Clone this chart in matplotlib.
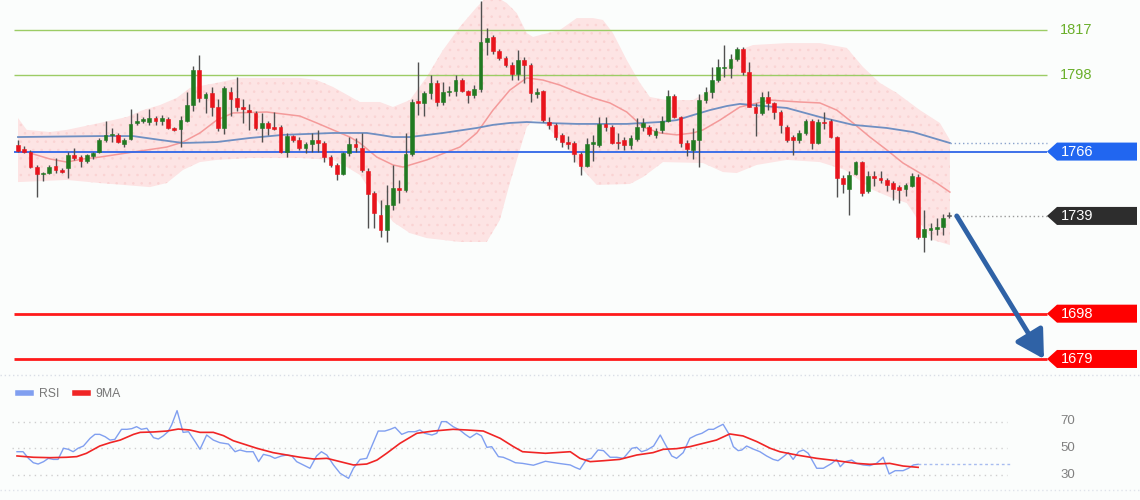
import matplotlib
matplotlib.use("Agg")
import matplotlib.pyplot as plt
from matplotlib.lines import Line2D
from matplotlib.patches import Polygon

plt.rcParams["font.family"] = ["Liberation Sans", "DejaVu Sans"]
plt.rcParams["hatch.linewidth"] = 0.6

# candles: open, high, low, close
opens = [1768.8, 1767.0, 1766.0, 1759.7, 1756.5, 1757.0, 1760.0, 1758.3, 1759.0, 1764.5,
         1763.8, 1762.0, 1764.0, 1766.0, 1771.0, 1773.0, 1773.0, 1769.0, 1771.3, 1778.0,
         1779.0, 1778.6, 1780.0, 1779.0, 1779.6, 1776.0, 1775.5, 1779.0, 1785.5, 1800.2,
         1788.3, 1790.7, 1784.7, 1776.0, 1791.0, 1788.3, 1784.8, 1783.4, 1782.3, 1776.0,
         1778.0, 1776.4, 1776.4, 1766.0, 1772.5, 1771.0, 1767.6, 1769.0, 1771.0, 1769.7,
         1763.8, 1760.4, 1756.6, 1765.5, 1769.0, 1767.5, 1758.0, 1748.6, 1739.4, 1733.0,
         1743.6, 1750.7, 1750.0, 1765.0, 1787.4, 1786.4, 1790.6, 1794.8, 1787.0, 1791.0,
         1791.4, 1796.0, 1791.4, 1789.8, 1792.2, 1812.0, 1814.0, 1808.0, 1805.4, 1802.4,
         1798.5, 1804.4, 1802.3, 1790.3, 1791.4, 1778.4, 1777.1, 1773.0, 1770.0, 1769.6,
         1765.0, 1760.0, 1769.2, 1768.8, 1777.6, 1776.3, 1770.0, 1771.0, 1768.8, 1771.3,
         1776.3, 1776.3, 1773.0, 1775.0, 1779.0, 1789.4, 1780.5, 1769.6, 1766.8, 1771.0,
         1787.6, 1791.0, 1796.0, 1801.0, 1801.0, 1805.0, 1809.0, 1799.4, 1784.7, 1782.2,
         1789.0, 1786.4, 1782.6, 1776.3, 1772.1, 1771.0, 1773.8, 1778.8, 1769.6, 1778.6,
         1778.8, 1772.0, 1755.0, 1750.5, 1756.6, 1761.6, 1749.5, 1755.8, 1755.0, 1754.0,
         1752.8, 1751.0, 1750.3, 1751.5, 1755.4, 1730.2, 1733.3, 1733.7, 1734.4, 1739.0]
highs = [1770.9, 1768.5, 1766.8, 1760.5, 1757.5, 1760.5, 1763.3, 1759.0, 1766.0, 1767.5,
         1764.5, 1765.0, 1766.0, 1771.5, 1779.0, 1776.0, 1774.0, 1771.5, 1784.0, 1782.0,
         1780.5, 1784.0, 1781.0, 1781.5, 1780.5, 1776.5, 1781.0, 1791.0, 1802.0, 1806.5,
         1791.0, 1793.0, 1788.0, 1793.5, 1793.0, 1797.4, 1788.0, 1786.0, 1783.0, 1782.0,
         1779.0, 1782.6, 1777.0, 1773.8, 1773.0, 1772.0, 1770.0, 1774.0, 1775.0, 1770.5,
         1764.5, 1761.0, 1766.0, 1772.0, 1771.5, 1774.0, 1759.0, 1749.5, 1745.7, 1752.0,
         1760.4, 1754.0, 1774.0, 1788.0, 1803.6, 1791.5, 1798.0, 1796.0, 1795.0, 1793.5,
         1798.0, 1797.0, 1792.0, 1794.0, 1829.0, 1818.0, 1815.0, 1809.0, 1806.0, 1803.5,
         1808.6, 1805.5, 1803.0, 1792.5, 1792.0, 1780.5, 1778.0, 1774.0, 1772.5, 1770.5,
         1766.0, 1771.7, 1773.0, 1780.5, 1780.5, 1777.0, 1774.0, 1772.0, 1773.0, 1780.0,
         1780.0, 1777.0, 1776.0, 1781.0, 1792.0, 1790.0, 1781.0, 1771.0, 1776.0, 1790.0,
         1793.0, 1801.5, 1805.0, 1810.7, 1807.0, 1810.0, 1810.0, 1803.6, 1786.5, 1791.0,
         1791.5, 1787.0, 1783.5, 1777.0, 1773.0, 1775.0, 1779.5, 1779.5, 1779.5, 1782.6,
         1779.5, 1772.5, 1756.0, 1758.0, 1762.0, 1762.0, 1758.0, 1758.0, 1758.0, 1755.0,
         1753.5, 1752.0, 1753.0, 1757.0, 1756.5, 1741.5, 1736.0, 1738.0, 1740.0, 1740.7]
lows = [1765.8, 1765.5, 1759.0, 1747.0, 1753.5, 1756.5, 1757.0, 1757.0, 1755.0, 1762.5,
        1759.5, 1761.0, 1763.0, 1765.5, 1770.0, 1770.0, 1769.5, 1768.0, 1770.9, 1777.0,
        1778.0, 1777.0, 1777.0, 1777.0, 1775.5, 1774.5, 1768.0, 1778.5, 1783.0, 1787.0,
        1782.0, 1781.0, 1774.5, 1773.5, 1781.0, 1783.0, 1778.0, 1775.0, 1775.0, 1770.0,
        1773.0, 1775.0, 1765.5, 1763.7, 1770.0, 1766.5, 1765.5, 1766.0, 1766.0, 1761.5,
        1759.5, 1754.0, 1756.0, 1764.0, 1766.0, 1757.5, 1734.0, 1734.0, 1730.0, 1728.0,
        1741.5, 1744.5, 1749.0, 1764.0, 1781.3, 1781.0, 1788.0, 1785.0, 1785.5, 1789.5,
        1789.5, 1791.0, 1786.4, 1788.5, 1791.0, 1806.5, 1807.0, 1804.5, 1801.5, 1796.0,
        1796.0, 1794.8, 1787.0, 1788.5, 1778.5, 1775.5, 1771.0, 1768.0, 1767.0, 1761.6,
        1756.0, 1759.5, 1762.0, 1768.0, 1774.5, 1769.0, 1767.0, 1766.5, 1767.0, 1770.5,
        1774.5, 1772.5, 1771.5, 1774.0, 1778.5, 1780.0, 1768.0, 1764.0, 1763.0, 1759.5,
        1786.5, 1788.5, 1795.0, 1797.4, 1797.0, 1804.0, 1798.0, 1784.5, 1772.5, 1781.5,
        1783.5, 1779.5, 1774.0, 1770.0, 1764.5, 1769.5, 1773.0, 1767.0, 1769.0, 1775.5,
        1771.5, 1747.0, 1748.6, 1739.4, 1756.0, 1747.5, 1748.5, 1751.5, 1753.0, 1749.5,
        1745.7, 1744.4, 1747.5, 1751.0, 1729.5, 1724.0, 1729.0, 1731.0, 1731.0, 1738.0]
closes = [1766.2, 1766.0, 1759.7, 1756.5, 1757.0, 1759.7, 1758.3, 1757.6, 1764.5, 1763.2,
          1762.0, 1764.5, 1765.5, 1770.9, 1773.0, 1773.4, 1770.0, 1771.0, 1777.6, 1779.0,
          1779.5, 1780.0, 1779.0, 1780.0, 1776.0, 1775.0, 1779.3, 1785.5, 1800.2, 1788.3,
          1790.0, 1784.8, 1776.0, 1792.7, 1788.0, 1784.8, 1783.7, 1782.7, 1775.8, 1778.0,
          1775.8, 1775.3, 1766.0, 1772.5, 1770.9, 1767.6, 1769.0, 1771.0, 1769.8, 1763.8,
          1760.4, 1756.6, 1765.5, 1769.0, 1768.0, 1758.3, 1748.0, 1740.2, 1733.0, 1743.6,
          1750.7, 1749.7, 1765.0, 1786.8, 1786.4, 1790.6, 1794.8, 1787.0, 1791.0, 1791.5,
          1796.0, 1791.4, 1789.8, 1792.2, 1812.0, 1813.6, 1808.0, 1805.4, 1802.4, 1798.5,
          1804.4, 1802.3, 1790.6, 1791.0, 1779.3, 1777.1, 1772.1, 1770.0, 1769.2, 1765.0,
          1760.0, 1769.2, 1770.0, 1777.6, 1776.3, 1769.6, 1769.6, 1768.8, 1771.7, 1776.3,
          1778.0, 1773.4, 1774.5, 1779.0, 1789.4, 1780.5, 1769.6, 1767.2, 1771.0, 1787.6,
          1791.0, 1796.0, 1801.5, 1801.5, 1805.0, 1809.0, 1799.4, 1784.7, 1782.2, 1789.0,
          1786.4, 1782.6, 1777.0, 1771.0, 1771.0, 1773.8, 1778.8, 1769.6, 1778.4, 1778.0,
          1772.0, 1755.0, 1752.4, 1756.2, 1761.6, 1748.6, 1755.8, 1755.0, 1754.0, 1752.0,
          1750.3, 1750.0, 1752.0, 1755.8, 1730.2, 1733.5, 1733.5, 1734.2, 1738.0, 1739.0]

# bollinger band edges and moving averages (bar, price)
band_upper = [(0, 1780.1), (1.4, 1775.1), (5.1, 1774.2), (7.8, 1775.1), (13.1, 1778.0),
              (17.4, 1780.5), (20.0, 1783.4), (22.7, 1785.5), (25.4, 1788.5), (27.5, 1792.7),
              (31.8, 1794.8), (35.5, 1796.9), (45.1, 1796.9), (47.8, 1796.0), (50.4, 1793.1),
              (54.7, 1786.8), (57.9, 1786.8), (60.0, 1784.7), (62.7, 1787.6), (65.4, 1797.3),
              (68.0, 1808.6), (70.7, 1818.3), (73.4, 1826.6), (74.7, 1830.0), (77.1, 1830.0),
              (78.2, 1828.3), (79.8, 1824.1), (81.4, 1815.7), (82.4, 1814.1), (86.7, 1817.0),
              (89.4, 1822.0), (92.0, 1822.0), (93.6, 1821.2), (95.2, 1815.7), (97.4, 1804.4),
              (99.5, 1794.8), (101.1, 1788.9), (103.8, 1787.6), (108.0, 1787.6), (110.7, 1791.8),
              (113.4, 1801.5), (115.5, 1808.6), (117.6, 1810.7), (123.0, 1811.5), (128.3, 1811.5),
              (132.6, 1809.5), (135.2, 1801.5), (137.9, 1794.8), (140.6, 1790.6), (144.3, 1783.4),
              (147.5, 1778.0), (149.1, 1770.9)]
band_lower = [(0, 1753.2), (7.8, 1754.1), (13.1, 1752.8), (21.1, 1751.1), (23.8, 1752.8),
              (26.4, 1758.3), (29.1, 1761.6), (31.8, 1762.5), (37.1, 1763.3), (45.1, 1763.3),
              (50.4, 1762.5), (52.6, 1759.5), (54.7, 1756.2), (57.4, 1745.7), (60.0, 1736.5),
              (62.7, 1731.8), (65.4, 1729.7), (70.7, 1728.1), (75.0, 1728.1), (77.1, 1737.3),
              (78.7, 1752.8), (80.3, 1766.7), (81.4, 1776.3), (82.4, 1779.2), (84.0, 1778.4),
              (85.6, 1773.8), (87.8, 1767.9), (89.4, 1761.2), (92.6, 1752.0), (97.9, 1752.4),
              (100.0, 1755.3), (103.2, 1761.6), (109.6, 1761.2), (112.8, 1757.4), (115.0, 1757.0),
              (118.2, 1760.4), (123.0, 1762.5), (128.3, 1761.6), (132.3, 1758.3), (136.8, 1749.9),
              (139.5, 1746.9), (142.2, 1744.4), (144.8, 1734.4), (146.4, 1728.9), (149.1, 1726.8)]
ma_fast = [(1.9, 1765.4), (5.1, 1762.9), (7.8, 1761.6), (10.4, 1762.9), (13.1, 1763.7),
           (18.4, 1765.8), (23.8, 1767.9), (26.4, 1770.0), (29.1, 1773.8), (31.8, 1779.2),
           (34.4, 1782.2), (39.8, 1782.6), (45.1, 1780.9), (47.8, 1778.0), (50.4, 1775.1),
           (53.1, 1772.1), (54.7, 1769.6), (57.4, 1763.7), (60.0, 1760.4), (61.6, 1759.5),
           (65.4, 1762.5), (70.7, 1767.9), (73.4, 1773.8), (76.0, 1783.4), (78.7, 1791.8),
           (81.4, 1796.9), (84.0, 1796.0), (86.7, 1793.9), (89.4, 1791.0), (92.0, 1788.5),
           (94.7, 1786.4), (97.4, 1782.6), (100.0, 1776.3), (102.7, 1773.8), (105.4, 1773.0),
           (108.0, 1773.8), (109.6, 1775.1), (112.3, 1779.2), (115.5, 1784.7), (120.3, 1787.6),
           (125.1, 1786.8), (128.3, 1786.4), (131.0, 1783.4), (133.6, 1778.0), (136.3, 1772.1),
           (139.0, 1766.7), (141.6, 1761.2), (144.3, 1757.0), (147.0, 1752.8), (149.1, 1749.0)]
ma_slow = [(0, 1772.1), (13.1, 1772.5), (18.4, 1772.5), (22.7, 1770.9), (26.4, 1769.6),
           (31.8, 1770.0), (37.1, 1771.7), (42.4, 1773.0), (50.4, 1773.8), (55.8, 1773.8),
           (57.9, 1773.0), (60.0, 1772.1), (62.7, 1772.1), (68.0, 1773.8), (73.4, 1775.9),
           (76.0, 1777.2), (78.7, 1778.0), (81.4, 1778.4), (84.6, 1778.0), (89.4, 1777.6),
           (97.4, 1777.6), (102.7, 1778.4), (105.4, 1779.2), (108.0, 1781.3), (110.7, 1783.4),
           (113.4, 1785.1), (115.5, 1786.0), (117.6, 1785.5), (123.0, 1784.3), (128.3, 1780.5),
           (133.6, 1777.2), (139.0, 1775.9), (143.2, 1774.2), (146.4, 1771.7), (149.1, 1769.6)]

resistance = [1817, 1798]
pivot = 1766
last_price = 1739
supports = [1698, 1679]

# RSI panel (bar, value)
rsi = [(0, 47.2), (1.0, 47.2), (1.9, 42.2), (2.7, 38.9), (3.5, 37.9), (4.4, 39.7), (5.2, 42.2),
       (6.0, 41.4), (6.8, 41.4), (7.7, 49.8), (8.5, 49.0), (9.3, 47.2), (10.1, 49.8), (11.0, 51.5),
       (12.1, 57.3), (12.9, 60.3), (13.7, 60.3), (14.6, 58.5), (15.4, 56.0), (16.2, 56.5),
       (17.3, 64.1), (18.2, 64.1), (19.0, 64.6), (19.8, 66.1), (20.6, 64.1), (21.5, 64.9),
       (22.6, 57.8), (23.4, 56.8), (24.2, 59.1), (25.0, 62.3), (25.6, 67.4), (26.5, 78.2),
       (27.5, 61.8), (28.4, 62.3), (29.5, 54.8), (30.3, 49.0), (31.4, 59.8), (32.5, 56.0),
       (33.6, 54.0), (35.0, 53.0), (36.1, 47.2), (36.9, 48.5), (38.0, 47.2), (39.1, 47.2),
       (40.0, 39.7), (40.8, 45.2), (41.9, 44.0), (42.7, 42.2), (43.8, 44.0), (44.7, 44.7),
       (45.5, 44.0), (46.3, 39.7), (47.4, 37.2), (48.5, 34.7), (49.6, 44.0), (50.4, 47.2),
       (51.3, 44.7), (52.4, 37.2), (53.5, 30.9), (54.9, 27.1), (55.7, 34.7), (56.8, 41.4),
       (57.9, 42.2), (58.7, 51.0), (59.8, 62.8), (60.9, 62.8), (61.8, 64.1), (62.6, 65.6),
       (63.7, 60.3), (64.8, 62.3), (65.9, 62.3), (66.7, 63.6), (67.5, 61.1), (68.7, 59.8),
       (69.5, 61.1), (70.3, 69.9), (71.1, 69.9), (72.2, 66.1), (73.3, 63.6), (74.2, 60.3),
       (75.0, 57.8), (76.1, 61.1), (76.9, 59.1), (77.8, 50.5), (78.6, 51.0), (79.7, 43.5),
       (80.5, 43.0), (81.6, 40.9), (82.5, 38.9), (83.7, 38.4), (85.5, 37.0), (87.5, 40.0),
       (89.5, 38.5), (91.6, 37.2), (92.4, 35.4), (93.2, 33.9), (94.3, 41.4), (95.1, 42.2),
       (96.2, 48.5), (97.1, 48.0), (98.2, 43.0), (99.3, 43.0), (100.4, 42.2), (101.8, 49.8),
       (102.6, 50.5), (103.4, 47.2), (104.3, 48.5), (105.4, 51.5), (106.5, 59.8), (107.3, 53.0),
       (108.4, 44.0), (109.2, 42.2), (110.3, 46.5), (111.4, 57.3), (112.5, 59.8), (113.4, 61.1),
       (114.5, 64.1), (115.3, 64.1), (116.1, 66.1), (116.9, 67.9), (117.8, 61.1), (118.6, 51.0),
       (119.4, 48.0), (120.0, 48.5), (120.8, 51.5), (121.9, 49.2), (123.0, 47.2), (124.1, 44.0),
       (125.2, 41.4), (126.0, 40.4), (126.9, 43.5), (127.7, 46.5), (128.5, 41.4), (129.4, 47.2),
       (130.2, 48.5), (131.0, 46.0), (132.4, 34.7), (133.5, 34.7), (134.9, 38.4), (135.7, 41.4),
       (136.3, 35.9), (137.1, 39.7), (138.2, 40.9), (139.0, 38.4), (140.1, 37.2), (141.2, 36.7),
       (142.3, 38.4), (143.4, 43.0), (144.4, 30.4), (145.4, 32.9), (146.7, 32.9), (147.6, 34.7),
       (148.4, 37.2), (149.2, 37.7)]
rsi_ma = [(0, 44.0), (2.7, 43.0), (5.5, 42.7), (8.2, 43.0), (9.9, 43.5), (11.5, 46.0), (13.7, 51.5),
          (15.4, 54.0), (17.1, 56.0), (19.3, 60.3), (20.4, 61.8), (22.6, 62.1), (24.8, 62.8),
          (26.7, 64.3), (28.6, 63.6), (30.3, 61.8), (32.5, 61.8), (34.2, 59.3), (35.8, 55.5),
          (38.0, 52.3), (39.7, 49.8), (42.4, 46.5), (44.7, 44.7), (46.9, 43.0), (49.1, 41.7),
          (51.3, 42.2), (53.5, 39.7), (55.7, 37.2), (57.9, 37.9), (59.6, 40.9), (61.2, 46.0),
          (63.4, 53.5), (66.2, 61.1), (68.9, 62.8), (72.2, 64.1), (74.5, 63.6), (77.2, 62.8),
          (80.0, 57.3), (82.2, 51.0), (83.7, 47.2), (87.5, 46.0), (91.6, 47.2), (93.2, 42.2),
          (94.9, 39.7), (97.1, 40.4), (99.8, 41.4), (102.6, 44.7), (105.3, 46.5), (107.0, 49.0),
          (109.2, 49.5), (111.4, 51.0), (113.6, 53.5), (115.8, 56.0), (118.0, 60.6), (120.2, 59.1),
          (122.5, 54.8), (124.7, 49.8), (126.3, 47.2), (129.1, 44.7), (132.4, 42.2), (135.7, 40.4),
          (139.0, 38.4), (141.2, 37.7), (144.5, 38.4), (146.7, 36.4), (149.2, 35.4)]
rsi_levels = [70, 50, 30]

GREEN = "#217a21"
RED = "#e8141c"
BG = "#fbfdfc"

fig = plt.figure(figsize=(11.4, 5.0), dpi=100, facecolor=BG)

# ---- price panel ----
ax = fig.add_axes([0, 128 / 500, 1, 372 / 500])
ax.set_facecolor(BG)
step = 6.25
ax.set_xlim(-18 / step, (1140 - 18) / step)
ax.set_ylim(1829.585 - 0.4195 * 372, 1829.585)
ax.axis("off")

bx = [p[0] for p in band_upper] + [p[0] for p in band_lower][::-1]
by = [p[1] for p in band_upper] + [p[1] for p in band_lower][::-1]
ax.fill(bx, by, facecolor="#fde4e4", edgecolor="none", zorder=1)
ax.fill(bx, by, facecolor="none", edgecolor="#fad3d3", hatch="..", lw=0, zorder=1)

ax.plot([p[0] for p in ma_fast], [p[1] for p in ma_fast], color="#f49a9a", lw=1.1, zorder=2)
ax.plot([p[0] for p in ma_slow], [p[1] for p in ma_slow], color="#6f8fc2", lw=1.3, zorder=2)

line_end = (1047 - 18) / step
line_start = (14 - 18) / step
for lvl in resistance:
    ax.hlines(lvl, line_start, line_end, color="#9ccc65", lw=1, zorder=2)
    ax.text((1060 - 18) / step, lvl, str(lvl), color="#6aaf2a", fontsize=10.5, va="center", ha="left")
ax.hlines(pivot, line_start, line_end, color="#2f66e8", lw=1.3, zorder=2)
for lvl in supports:
    ax.hlines(lvl, line_start, line_end, color="#ff1a1a", lw=2, zorder=2)

# candles
n = len(closes)
for i in range(n):
    o, h, l, c = opens[i], highs[i], lows[i], closes[i]
    ax.vlines(i, l, h, color="#505050", lw=1, zorder=3)
    col = GREEN if c > o else RED
    if c == o:
        col = "#505050"
    ax.bar(i, max(abs(c - o), 0.45), bottom=min(o, c), width=0.62, color=col, edgecolor=col, lw=0.4, zorder=4)

# dotted extensions
ax.hlines(ma_slow[-1][1], ma_slow[-1][0], line_end, color="#8aa2cc", lw=1, linestyles=(0, (1, 2)), zorder=2)
ax.hlines(last_price, n - 0.3, line_end, color="#9a9a9a", lw=1, linestyles=(0, (1, 2)), zorder=2)

# price tags
tip = (1047 - 18) / step
box_l = (1057 - 18) / step
box_r = (1137 - 18) / step
half = 9 * 0.4195
for lvl, col in [(pivot, "#2166f0"), (last_price, "#2d2d2d"), (supports[0], "#ff0000"), (supports[1], "#ff0000")]:
    poly = Polygon([(tip, lvl), (box_l, lvl + half), (box_r, lvl + half), (box_r, lvl - half), (box_l, lvl - half)],
                   closed=True, facecolor=col, edgecolor="none", zorder=5)
    ax.add_patch(poly)
    ax.text((1061 - 18) / step, lvl, str(lvl), color="white", fontsize=10.5, va="center", ha="left", zorder=6)

# forecast arrow
ax.annotate("", xy=((1044 - 18) / step, supports[1]), xytext=(n + 0.2, last_price),
            arrowprops=dict(arrowstyle="-|>,head_length=0.7,head_width=0.4", color="#2f62a6", lw=3.5,
                            mutation_scale=24, shrinkA=0, shrinkB=0),
            zorder=6)

# ---- RSI panel ----
ar = fig.add_axes([0, 0, 1, 124 / 500])
ar.set_facecolor(BG)
rstep = 6.04
ar.set_xlim(-17 / rstep, (1140 - 17) / rstep)
ar.set_ylim(50 - 52 / 1.325, 50 + 72 / 1.325)
ar.axis("off")
for lvl in rsi_levels:
    ar.hlines(lvl, (12 - 17) / rstep, (1007 - 17) / rstep, color="#cfcfcf", lw=1, linestyles=(0, (1, 3)))
    ar.text((1060 - 17) / rstep, lvl, str(lvl), color="#808080", fontsize=9.5, va="center", ha="left")
ar.plot([p[0] for p in rsi], [p[1] for p in rsi], color="#809ff0", lw=1, label="RSI")
ar.plot([p[0] for p in rsi_ma], [p[1] for p in rsi_ma], color="#f02525", lw=1.2, label="9MA")
ar.hlines(rsi[-1][1], rsi[-1][0], (1010 - 17) / rstep, color="#a8bcf0", lw=1, linestyles=(0, (2, 2)))
leg = ar.legend(loc="upper left", bbox_to_anchor=(0.006, 0.99), ncol=2, frameon=False, fontsize=8.8,
                handlelength=1.1, handletextpad=0.6, columnspacing=1.3, labelcolor="#777777")
for h in leg.legend_handles:
    h.set_linewidth(4)

# panel separators
fig.add_artist(Line2D([0, 1], [1 - 374.5 / 500, 1 - 374.5 / 500], color="#d9dee6", lw=1, ls=(0, (1, 2))))
fig.add_artist(Line2D([0, 1], [1 - 490 / 500, 1 - 490 / 500], color="#dfe3ea", lw=1, ls=(0, (1, 2))))

fig.savefig("out.png", dpi=100, facecolor=BG)
